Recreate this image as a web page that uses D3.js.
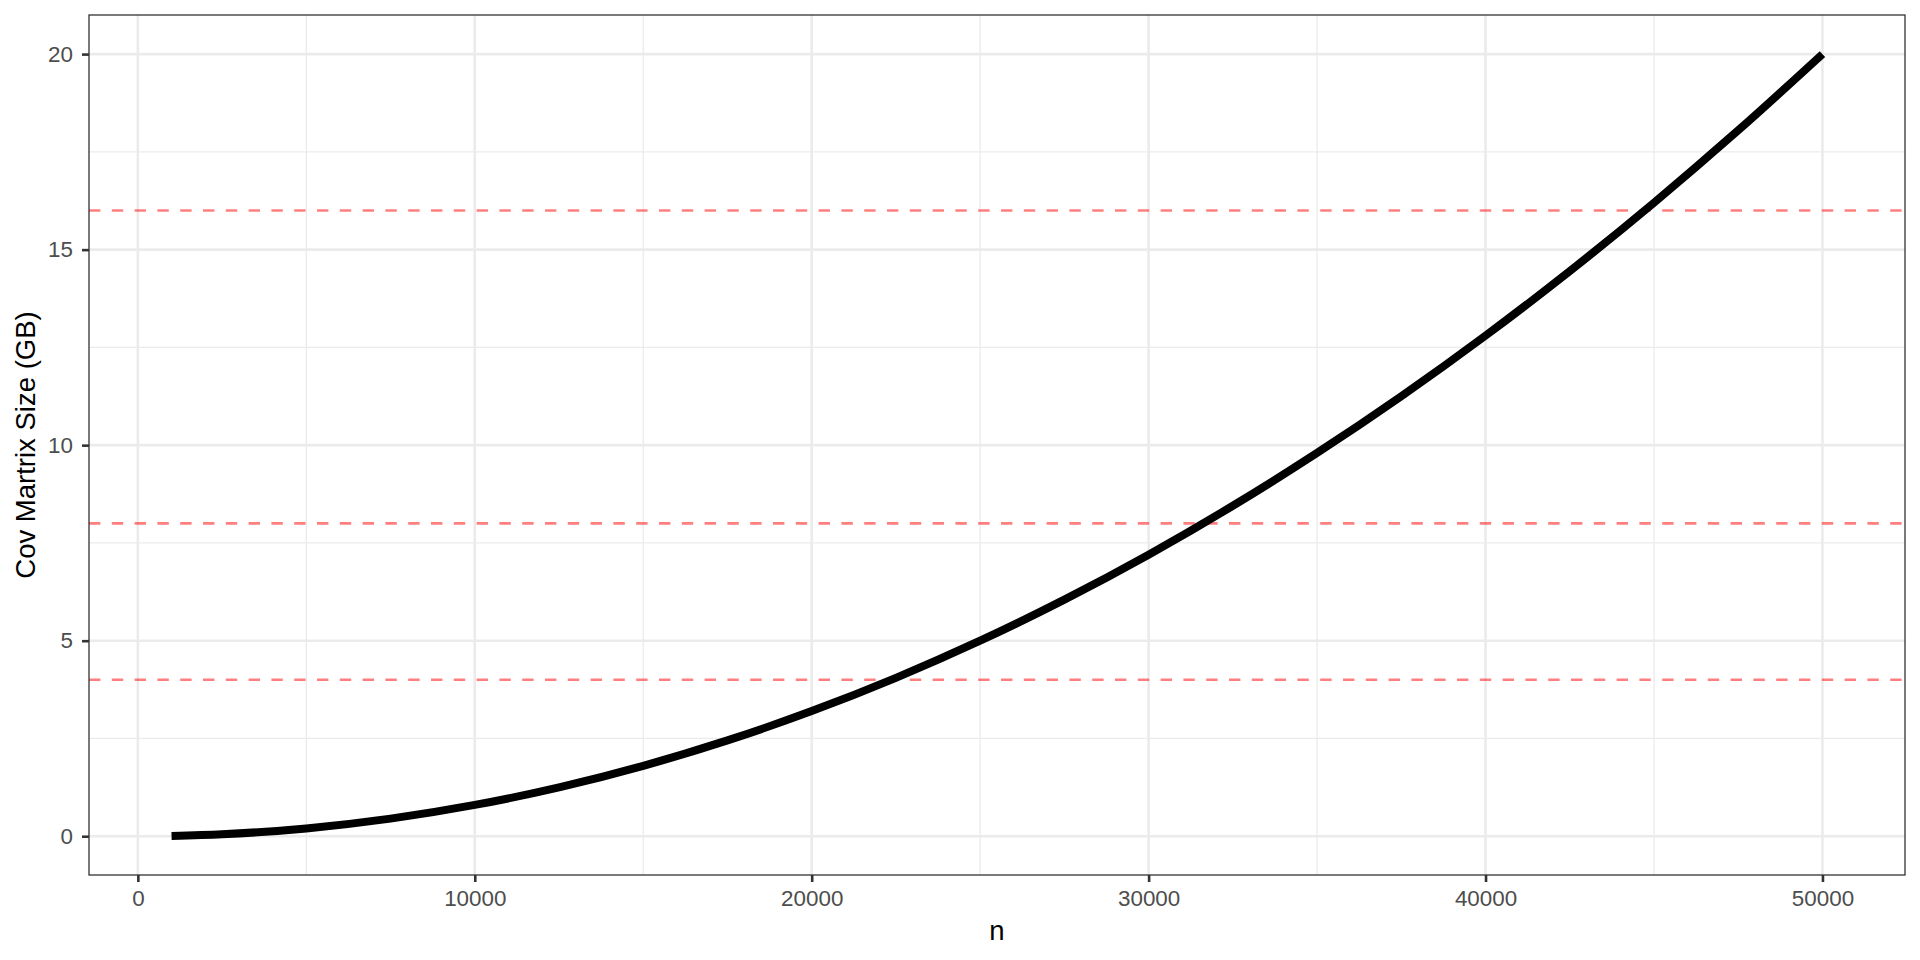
<!DOCTYPE html>
<meta charset="utf-8">
<style>
  body { margin: 0; background: #fff; }
  text { font-family: "Liberation Sans", Arial, sans-serif; }
</style>
<body>
<svg id="chart" width="1920" height="960"></svg>
</body>
<script src="https://d3js.org/d3.v7.min.js"></script>
<script>

// matrix dimension n and size of the covariance matrix (GB)
var nValues = [1000, 2500, 5000, 7500, 10000, 12500, 15000, 17500, 20000, 22500, 25000,
               27500, 30000, 32500, 35000, 37500, 40000, 42500, 45000, 47500, 50000];
var sizeGB = [0.008, 0.05, 0.2, 0.45, 0.8, 1.25, 1.8, 2.45, 3.2, 4.05, 5.0,
              6.05, 7.2, 8.45, 9.8, 11.25, 12.8, 14.45, 16.2, 18.05, 20.0];

// memory limits shown as dashed lines
var limits = [4, 8, 16];

var xTicks = [0, 10000, 20000, 30000, 40000, 50000];
var xMinor = [5000, 15000, 25000, 35000, 45000];
var yTicks = [0, 5, 10, 15, 20];
var yMinor = [2.5, 7.5, 12.5, 17.5];

var svg = d3.select("#chart"),
    margin = {top: 15, right: 15, bottom: 85, left: 89},
    width = +svg.attr("width") - margin.left - margin.right,
    height = +svg.attr("height") - margin.top - margin.bottom,
    g = svg.append("g").attr("transform", "translate(" + margin.left + "," + margin.top + ")");

var data = nValues.map(function(n, i) { return {n: n, gb: sizeGB[i]}; });

// ggplot style 5% expansion
var xExt = d3.extent(nValues), xPad = (xExt[1] - xExt[0]) * 0.05;
var yExt = d3.extent(sizeGB), yPad = (yExt[1] - yExt[0]) * 0.05;

var x = d3.scaleLinear().domain([xExt[0] - xPad, xExt[1] + xPad]).range([0, width]);
var y = d3.scaleLinear().domain([yExt[0] - yPad, yExt[1] + yPad]).range([height, 0]);

// grid
g.selectAll(".xminor").data(xMinor).enter().append("line")
    .attr("x1", x).attr("x2", x).attr("y1", 0).attr("y2", height)
    .attr("stroke", "#ebebeb").attr("stroke-width", 1.3);
g.selectAll(".yminor").data(yMinor).enter().append("line")
    .attr("y1", y).attr("y2", y).attr("x1", 0).attr("x2", width)
    .attr("stroke", "#ebebeb").attr("stroke-width", 1.3);
g.selectAll(".xmajor").data(xTicks).enter().append("line")
    .attr("x1", x).attr("x2", x).attr("y1", 0).attr("y2", height)
    .attr("stroke", "#ebebeb").attr("stroke-width", 2.6);
g.selectAll(".ymajor").data(yTicks).enter().append("line")
    .attr("y1", y).attr("y2", y).attr("x1", 0).attr("x2", width)
    .attr("stroke", "#ebebeb").attr("stroke-width", 2.6);

// limit lines
g.selectAll(".limit").data(limits).enter().append("line")
    .attr("y1", y).attr("y2", y).attr("x1", 0).attr("x2", width)
    .attr("stroke", "#ff0000").attr("stroke-opacity", 0.5)
    .attr("stroke-width", 2.6).attr("stroke-dasharray", "11.4,11.4");

var line = d3.line()
    .x(function(d) { return x(d.n); })
    .y(function(d) { return y(d.gb); })
    .curve(d3.curveMonotoneX);

g.append("path")
    .datum(data)
    .attr("fill", "none")
    .attr("stroke", "#000")
    .attr("stroke-width", 8)
    .attr("stroke-linecap", "butt")
    .attr("stroke-linejoin", "round")
    .attr("d", line);

// panel border
g.append("rect")
    .attr("width", width).attr("height", height)
    .attr("fill", "none").attr("stroke", "#333333").attr("stroke-width", 1.3);

// axes
var xAxis = g.append("g")
    .attr("transform", "translate(0," + height + ")")
    .call(d3.axisBottom(x).tickValues(xTicks).tickFormat(d3.format("d")).tickSize(7).tickPadding(8));
var yAxis = g.append("g")
    .call(d3.axisLeft(y).tickValues(yTicks).tickSize(7).tickPadding(9));

[xAxis, yAxis].forEach(function(a) {
  a.select(".domain").remove();
  a.selectAll("line").attr("stroke", "#333333").attr("stroke-width", 2.6);
  a.selectAll("text").attr("fill", "#4d4d4d").style("font-size", "22.4px")
    .style("font-family", "'Liberation Sans', Arial, sans-serif");
});

svg.append("text")
    .attr("x", margin.left + width / 2)
    .attr("y", 940)
    .attr("text-anchor", "middle")
    .style("font-size", "27.5px")
    .text("n");

svg.append("text")
    .attr("transform", "translate(35," + (margin.top + height / 2) + ") rotate(-90)")
    .attr("text-anchor", "middle")
    .style("font-size", "27.5px")
    .text("Cov Martrix Size (GB)");

</script>
